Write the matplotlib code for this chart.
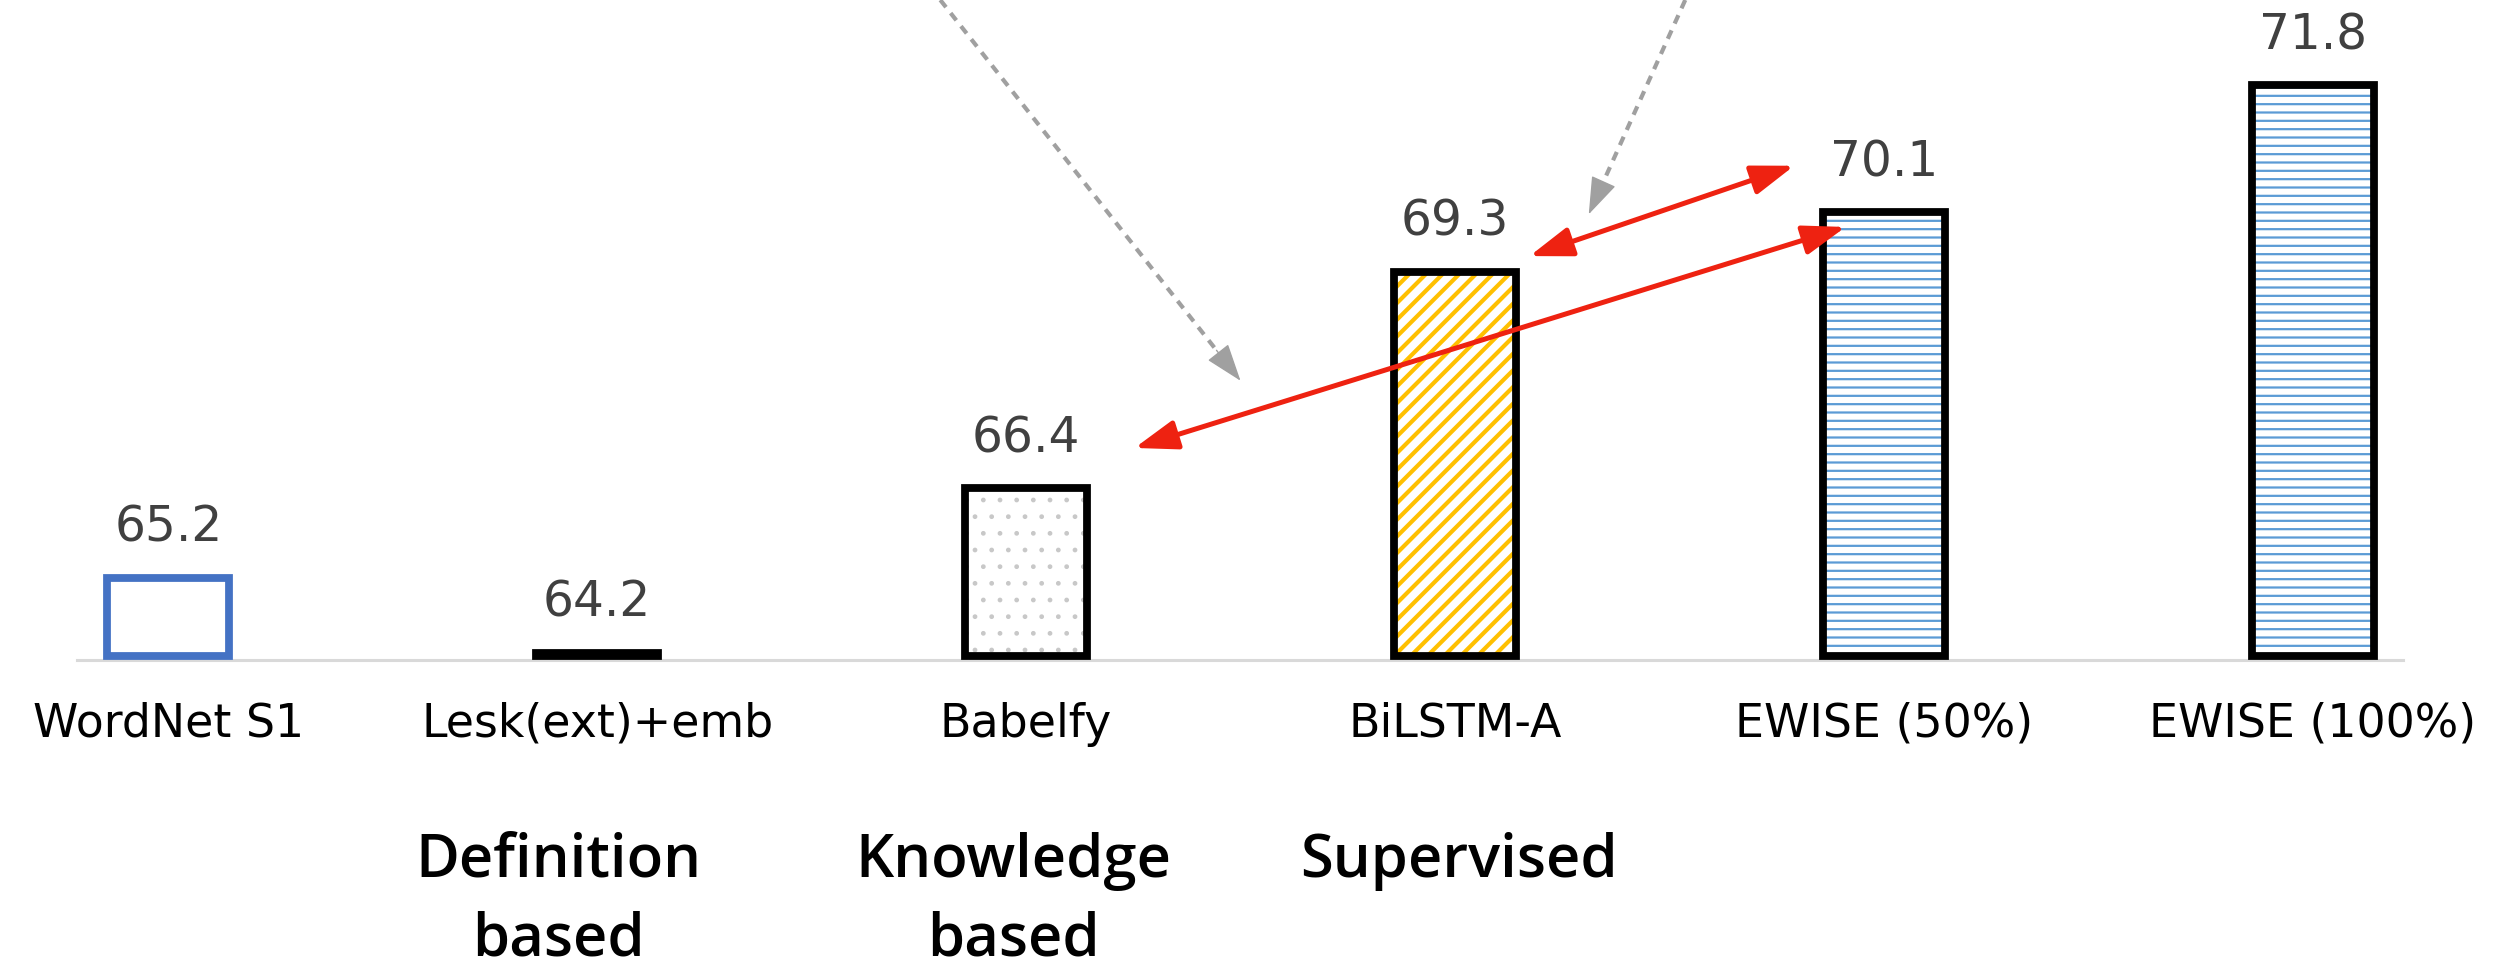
import matplotlib
matplotlib.use("Agg")
import matplotlib.pyplot as plt
from matplotlib.patches import FancyArrowPatch, ArrowStyle

# Word sense disambiguation F1 scores per system
categories = ["WordNet S1", "Lesk(ext)+emb", "Babelfy", "BiLSTM-A", "EWISE (50%)", "EWISE (100%)"]
scores = [65.2, 64.2, 66.4, 69.3, 70.1, 71.8]

# Approach families, each written under the system it describes
group_names = ["Definition\nbased", "Knowledge\nbased", "Supervised"]
group_index = [1, 2, 3]

# Per-bar styling
face_colors = ["white", "black", "white", "white", "white", "white"]
hatch_patterns = [None, None, ".", "//", "--", "--"]
hatch_colors = ["none", "none", "#C8C8C8", "#FFC000", "#5B9BD5", "#5B9BD5"]
hatch_widths = [1.0, 1.0, 1.0, 3.0, 1.6, 1.6]
border_colors = ["#4472C4", "black", "black", "black", "black", "black"]

fig = plt.figure(figsize=(25.17, 9.72), dpi=100)
ax = fig.add_axes([0.0306, 0.321, 0.924, 0.679])

y_min, y_max = 64.1, 72.94
bar_base = 64.154  # bars rest just on the axis line, bottom border included

x = list(range(len(categories)))
bar_width = 0.285

for i, (xi, v) in enumerate(zip(x, scores)):
    with plt.rc_context({"hatch.linewidth": hatch_widths[i]}):
        ax.bar(xi, v - bar_base, bar_width, bottom=bar_base, color=face_colors[i],
               edgecolor=hatch_colors[i], hatch=hatch_patterns[i], linewidth=0, zorder=2)
    ax.bar(xi, v - bar_base, bar_width, bottom=bar_base, fill=False,
           edgecolor=border_colors[i], linewidth=5.6, zorder=3, joinstyle="miter")
    ax.annotate(f"{v:.1f}", (xi, v), xytext=(0, 36), textcoords="offset points",
                ha="center", va="center", fontsize=35, color="#404040")

ax.set_xlim(-0.213, 5.21)
ax.set_ylim(y_min, y_max)

ax.set_xticks(x)
ax.set_xticklabels(categories, fontsize=33, color="black")
ax.tick_params(axis="x", length=0, pad=30)
ax.set_yticks([])
for side in ("top", "left", "right"):
    ax.spines[side].set_visible(False)
ax.spines["bottom"].set_color("#D9D9D9")
ax.spines["bottom"].set_linewidth(2.2)
ax.spines["bottom"].set_zorder(1)

# Approach family captions
group_shift = [-0.09, -0.03, 0.01]
for name, gi, dx in zip(group_names, group_index, group_shift):
    for k, line in enumerate(name.split("\n")):
        ax.text(gi + dx, -0.305 - 0.12 * k, line, transform=ax.get_xaxis_transform(),
                ha="center", va="center", fontsize=43, fontweight="semibold",
                family="Open Sans", color="black")

# Red double-headed comparison arrows
red = "#EE2211"
red_style = ArrowStyle("<|-|>", head_length=1.3, head_width=0.45)
for (x0, y0), (x1, y1) in [((3.174, 69.51), (3.791, 70.72)),
                           ((2.253, 66.94), (3.911, 69.90))]:
    arr = FancyArrowPatch((x0, y0), (x1, y1), arrowstyle=red_style, mutation_scale=20,
                          color=red, lw=3.6, shrinkA=0, shrinkB=0, zorder=5, clip_on=False)
    ax.add_patch(arr)

# Grey dashed pointers coming from above the plot
grey = "#A0A0A0"
grey_style = ArrowStyle("-|>", head_length=1.2, head_width=0.42)
for (x0, y0), (x1, y1) in [((1.80, 72.94), (2.50, 67.84)),
                           ((3.537, 72.94), (3.312, 70.07))]:
    t = 0.92
    xm, ym = x0 + (x1 - x0) * t, y0 + (y1 - y0) * t
    ax.plot([x0, xm], [y0, ym], color=grey, lw=3.0, linestyle=(0, (2.2, 1.8)),
            zorder=4, clip_on=False, solid_capstyle="butt")
    head = FancyArrowPatch((xm, ym), (x1, y1), arrowstyle=grey_style, mutation_scale=20,
                           color=grey, lw=1, shrinkA=0, shrinkB=0, zorder=4, clip_on=False)
    ax.add_patch(head)

fig.savefig("out.png", dpi=100, facecolor="white")
